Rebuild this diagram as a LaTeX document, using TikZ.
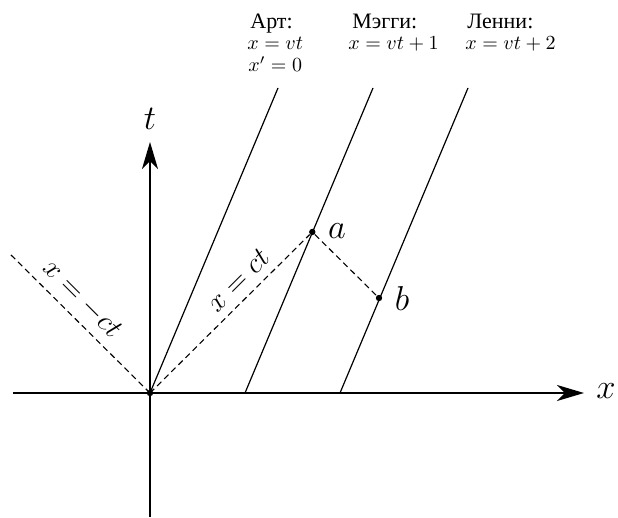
\documentclass[tikz,border=0pt]{standalone}
\usepackage{fontspec}
\newfontfamily\cyr{Liberation Serif}
\usetikzlibrary{arrows.meta}
\begin{document}
\begin{tikzpicture}[x={(0.5pt,0)},y={(0,-0.5pt)},
  axis/.style={line width=1pt,-{Stealth[length=13.5pt,width=8pt,inset=4pt]}},
  wline/.style={line width=0.6pt},
  light/.style={line width=0.55pt,dash pattern=on 3pt off 2pt},
  evdot/.style={circle,fill=black,inner sep=0pt,minimum size=3.2pt},
  biglbl/.style={font=\fontsize{18}{21}\selectfont,inner sep=0pt},
  linelbl/.style={font=\fontsize{14}{17}\selectfont,inner sep=0pt},
  hdr/.style={anchor=base west,inner sep=0pt,font=\fontsize{10}{12}\selectfont},
  cyrname/.style={anchor=base west,inner sep=0pt,font=\fontsize{11}{13}\selectfont\cyr}]
\useasboundingbox (0,0) rectangle (618,518);
% coordinates
\coordinate (O) at (150,393);
\coordinate (xl) at (13,393);
\coordinate (xr) at (584,393);
\coordinate (yb) at (150,517);
\coordinate (yt) at (150,142);
\coordinate (artT) at (278,88);
\coordinate (magB) at (245,393);
\coordinate (magT) at (373,88);
\coordinate (lenB) at (340,393);
\coordinate (lenT) at (468,88);
\coordinate (nl) at (9,253);
% axes
\draw[axis] (xl) -- (xr);
\draw[axis] (yb) -- (yt);
\node[biglbl] (tl) at (150,119) {$t$};
\node[biglbl] (xlab) at (606,391) {$x$};
% world lines
\draw[wline] (O) -- (artT);
\draw[wline] (magB) -- (magT);
\draw[wline] (lenB) -- (lenT);
% events
\node[evdot] (a) at (312.3,232) {};
\node[evdot] (b) at (379,298) {};
\node[evdot] (o) at (O) {};
% light lines
\draw[light] (O) -- (a);
\draw[light] (a) -- (b);
\draw[light] (O) -- (nl);
\node[biglbl] (al) at (337,231) {$a$};
\node[biglbl] (bl) at (402,299) {$b$};
\node[linelbl,rotate=45] (ctl) at (238,280) {$x=ct$};
\node[linelbl,rotate=-45] (mctl) at (82,299) {$x=-ct$};
% headers
\node[cyrname] (h1) at (250,29) {Арт:};
\node[hdr] (h1a) at (247,50) {$x=vt$};
\node[hdr] (h1b) at (248,72) {$x'=0$};
\node[cyrname] (h2) at (352,29) {Мэгги:};
\node[hdr] (h2a) at (348,50) {$x=vt+1$};
\node[cyrname] (h3) at (467,29) {Ленни:};
\node[hdr] (h3a) at (465,50) {$x=vt+2$};
\end{tikzpicture}
\end{document}
